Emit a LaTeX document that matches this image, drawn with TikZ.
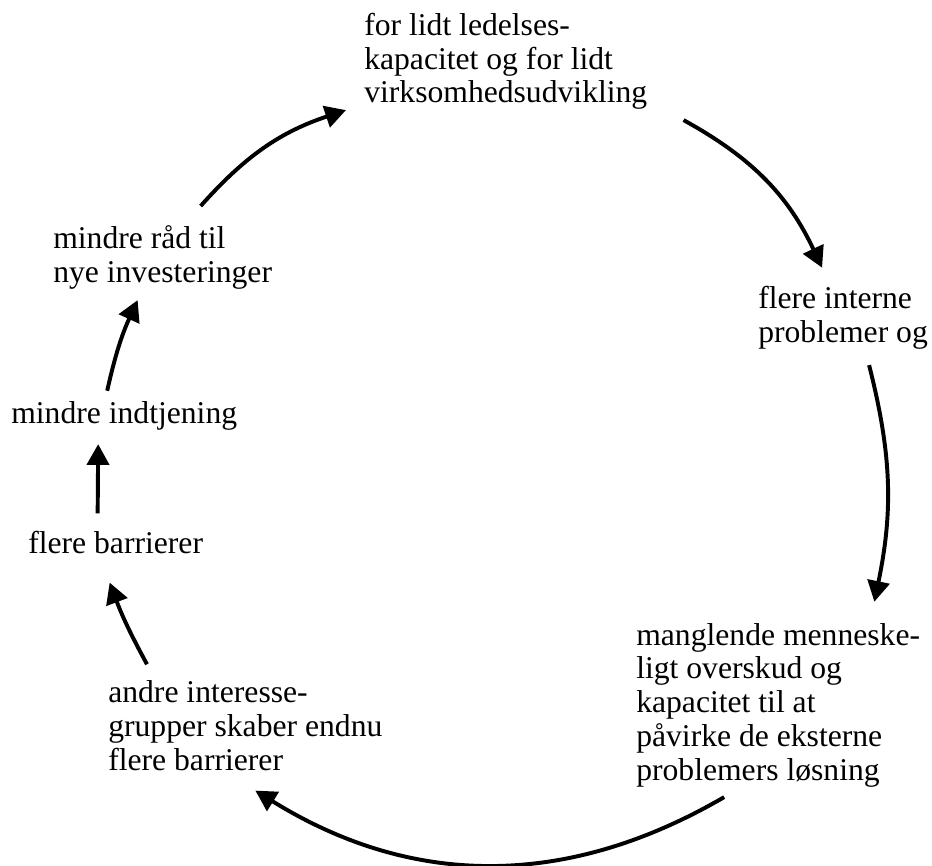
\documentclass[tikz,border=0pt]{standalone}
\usepackage{fontspec}
\setmainfont{Liberation Serif}
\usetikzlibrary{arrows.meta,calc}

\begin{document}
\begin{tikzpicture}[
  x=0.025cm, y=0.025cm,
  txt/.style={align=left, inner sep=0pt, anchor=base west, font=\fontsize{22.5}{24}\selectfont},
  arr/.style={-{Triangle[length=0.52cm,width=0.55cm]}, line width=2.8pt},
]
\useasboundingbox (0,0) rectangle (932,-866);

% Statements round the circle (placed at the baseline of their last line)
\node[txt] (lidt) at (364,-103) {for lidt ledelses-\\kapacitet og for lidt\\virksomhedsudvikling};
\node[txt] (interne) at (758,-342) {flere interne\\problemer og};
\node[txt] (mangel) at (636,-780) {manglende menneske-\\ligt overskud og\\kapacitet til at\\påvirke de eksterne\\problemers løsning};
\node[txt] (grupper) at (108,-770) {andre interesse-\\grupper skaber endnu\\flere barrierer};
\node[txt] (barr) at (28,-553) {flere barrierer};
\node[txt] (indtj) at (11,-423) {mindre indtjening};
\node[txt] (raad) at (53,-282) {mindre råd til\\nye investeringer};

% Arrows
\draw[arr] ($(raad.north)+(38,19)$) to[bend left=15] ($(lidt.south west)+(-18,0)$);
\draw[arr] ($(lidt.south east)+(36,-10)$) to[bend left=18] ($(interne.north)+(-21,18)$);
\draw[arr] ($(interne.south)+(26,-16)$) to[bend left=13] ($(mangel.north east)+(-46,21)$);
\draw[arr] ($(mangel.south)+(-54,-10)$) to[bend left=31] ($(grupper.south)+(10,-20)$);
\draw[arr] ($(grupper.north west)+(39,16)$) to[bend left=4] ($(barr.south)+(-6,-29)$);
\draw[arr] ($(barr.north)+(-18,17)$) -- ($(indtj.south)+(-26,-14)$);
\draw[arr] ($(indtj.north)+(-17,10)$) to[bend left=6] ($(raad.south)+(-25,-11)$);
\end{tikzpicture}
\end{document}
